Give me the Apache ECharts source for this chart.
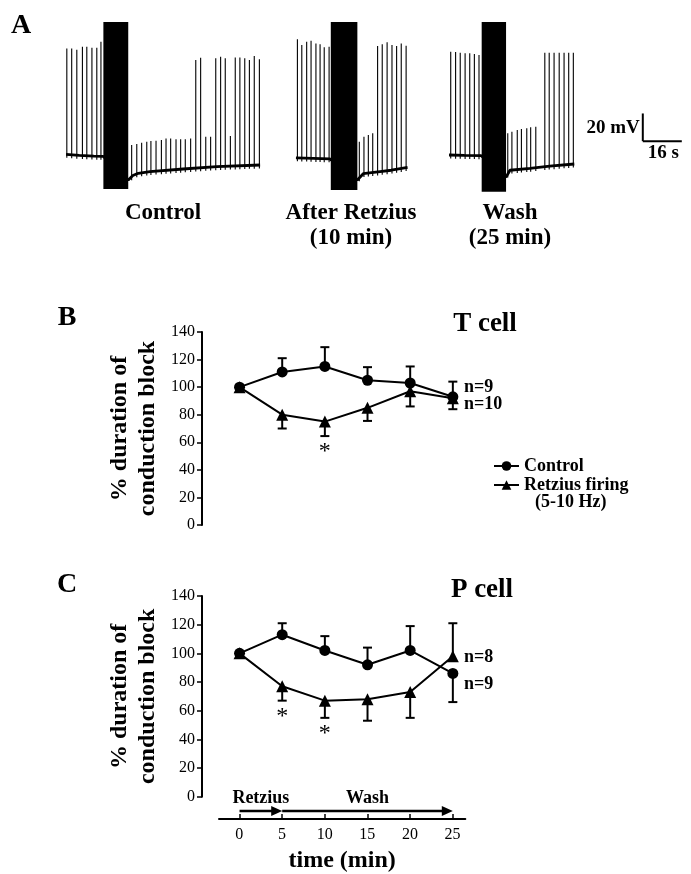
<!DOCTYPE html>
<html>
<head>
<meta charset="utf-8">
<script src="https://cdn.jsdelivr.net/npm/echarts@6/dist/echarts.min.js"></script>
<style>
html,body{margin:0;padding:0;background:#fff;}
#chart{width:691px;height:874px;}
</style>
</head>
<body>
<div id="chart"></div>
<script>
// ---------- Panel A: intracellular traces (time in s, membrane potential in mV) ----------
const ctrlBaseline = [[6.6,-49.5],[12,-50.3],[18,-50.8],[21.9,-51],[32.1,-68],[34,-64.8],[36.2,-63.2],[41,-62],[54.6,-60.1],[68.4,-58.4],[86.2,-57.2]];
const ctrlSpikes = [[6.9,27],[8.9,27],[11.0,26],[13.3,28.2],[15.1,28.2],[17.2,27.5],[19.2,27.5],[20.9,31.8],
  [33.5,-42.8],[35.6,-42],[37.6,-41.1],[39.7,-40.4],[41.4,-39.9],[43.5,-39.7],[45.7,-39.2],[47.6,-38],[49.5,-38],[51.7,-38.7],[53.6,-38.7],[55.5,-38.7],[57.7,-38],
  [59.8,18.6],[61.8,20.3],[63.9,-36.8],[65.9,-36.8],[68.0,19.8],[70.0,21],[71.9,19.8],[74.0,-36.3],[76.0,20.5],[77.9,20.5],[79.9,19.8],[81.8,18.6],[83.8,21.5],[85.9,19.1]];
const ctrlBlock = [21.9, 32.1, 46, -74.5];

const retzBaseline = [[100.9,-52],[108,-52.4],[114.8,-52.8],[126.1,-68],[128.5,-63.5],[135.4,-62],[140,-61],[146.7,-58.9]];
const retzSpikes = [[101.5,33.5],[103.3,29.4],[105.3,31.8],[107.1,32.5],[109.1,30.6],[110.8,29.9],[112.5,27.8],[114.5,28.2],
  [126.9,-40.4],[128.8,-36.8],[130.6,-35.6],[132.4,-34.3],[134.4,28.7],[136.3,29.9],[138.3,31.4],[140.3,29.4],[142.2,28.7],[144.1,30.6],[146.1,28.9]];
const retzBlock = [115.2, 126.1, 46, -75.3];

const washBaseline = [[163.7,-50],[170,-50.3],[176.9,-50.5],[187.1,-66],[188.7,-61],[196.9,-59.6],[205,-58],[215.1,-56.5]];
const washSpikes = [[164.4,24.6],[166.4,24.4],[168.3,23.9],[170.3,23.4],[172.2,23.4],[174.1,22.9],[176.0,22.2],
  [187.8,-34.3],[189.5,-33.2],[191.7,-31.9],[193.4,-31.2],[195.6,-30.7],[197.2,-30],[199.3,-29.6],
  [203,23.9],[204.8,23.9],[206.8,23.9],[208.9,23.9],[210.9,23.9],[212.8,23.9],[214.7,23.9]];
const washBlock = [177.1, 187.1, 46, -76.5];

const scaleBar = [243.2, -40, 16, 20]; // corner t, corner V, 16 s, 20 mV

// ---------- Panels B and C ----------
const timeMin = [0, 5, 10, 15, 20, 25];
const yTicks = [0, 20, 40, 60, 80, 100, 120, 140];

const tControl   = [100, 111, 115, 105, 103, 93];
const tControlUp = [0, 10, 14, 9.5, 12, 11];
const tControlDn = [0, 0, 0, 0, 0, 0];
const tRetz      = [100, 80, 75, 85, 97, 92];
const tRetzUp    = [0, 0, 0, 0, 0, 0];
const tRetzDn    = [0, 10, 10.5, 9.5, 11, 8];
const tSigIdx    = [2];

const pControl   = [100, 113, 102, 92, 102, 86];
const pControlUp = [0, 8, 10, 12, 17, 0];
const pControlDn = [0, 0, 0, 0, 0, 20];
const pRetz      = [100, 77, 67, 68, 73, 98];
const pRetzUp    = [0, 0, 0, 0, 0, 23];
const pRetzDn    = [0, 10, 12, 15, 18, 0];
const pSigIdx    = [1, 2];

const protocol = [['Retzius', 0, 5], ['Wash', 5, 25]];

// ---------- helpers ----------
const FF = '"Liberation Serif", "Times New Roman", serif';
function baselineAt(b, t) {
  if (t <= b[0][0]) return b[0][1];
  for (let i = 1; i < b.length; i++) {
    if (t <= b[i][0]) {
      const f = (t - b[i-1][0]) / (b[i][0] - b[i-1][0]);
      return b[i-1][1] + f * (b[i][1] - b[i-1][1]);
    }
  }
  return b[b.length-1][1];
}
function spikeSeries(spikes, baseline) {
  return {
    type: 'custom', xAxisIndex: 0, yAxisIndex: 0, silent: true, clip: false, z: 3,
    data: spikes, encode: { x: 0, y: 1 },
    renderItem: function (params, api) {
      const t = api.value(0), v = api.value(1);
      const p1 = api.coord([t, v]);
      const p2 = api.coord([t, baselineAt(baseline, t) - 2.5]);
      return { type: 'line', shape: { x1: p1[0], y1: p1[1], x2: p2[0], y2: p2[1] },
               style: { stroke: '#000', lineWidth: 1.1 } };
    }
  };
}
function baseSeries(baseline) {
  return { type: 'line', xAxisIndex: 0, yAxisIndex: 0, data: baseline, symbol: 'none', silent: true,
           lineStyle: { color: '#000', width: 2.8 }, z: 2, animation: false };
}
function blockSeries(block) {
  return {
    type: 'custom', xAxisIndex: 0, yAxisIndex: 0, silent: true, clip: false, z: 5,
    data: [block], encode: { x: [0, 1], y: [2, 3] },
    renderItem: function (params, api) {
      const a = api.coord([api.value(0), api.value(2)]);
      const b = api.coord([api.value(1), api.value(3)]);
      return { type: 'rect', shape: { x: a[0], y: a[1], width: b[0] - a[0], height: b[1] - a[1] },
               style: { fill: '#000' } };
    }
  };
}
function rows(vals, up, dn) { return timeMin.map((t, i) => [t, vals[i], up[i], dn[i]]); }
function errSeries(idx, vals, up, dn) {
  return {
    type: 'custom', xAxisIndex: idx, yAxisIndex: idx, silent: true, clip: false, z: 2,
    data: rows(vals, up, dn), encode: { x: 0, y: 1 },
    renderItem: function (params, api) {
      const t = api.value(0), v = api.value(1), u = api.value(2), d = api.value(3);
      const top = api.coord([t, v + u]), bot = api.coord([t, v - d]);
      const ch = [];
      const st = { stroke: '#000', lineWidth: 2 };
      if (u > 0 || d > 0) {
        ch.push({ type: 'line', shape: { x1: top[0], y1: top[1], x2: bot[0], y2: bot[1] }, style: st });
      }
      if (u > 0) ch.push({ type: 'line', shape: { x1: top[0] - 4.5, y1: top[1], x2: top[0] + 4.5, y2: top[1] }, style: st });
      if (d > 0) ch.push({ type: 'line', shape: { x1: bot[0] - 4.5, y1: bot[1], x2: bot[0] + 4.5, y2: bot[1] }, style: st });
      return { type: 'group', children: ch };
    }
  };
}
function sigSeries(idx, sigIdx, vals, dn) {
  return {
    type: 'custom', xAxisIndex: idx, yAxisIndex: idx, silent: true, clip: false, z: 4,
    data: sigIdx.map(i => [timeMin[i], vals[i] - dn[i]]), encode: { x: 0, y: 1 },
    renderItem: function (params, api) {
      const p = api.coord([api.value(0), api.value(1)]);
      return { type: 'text', x: p[0], y: p[1] + 4,
               style: { text: '*', fill: '#000', font: '24px ' + FF, align: 'center', verticalAlign: 'top' } };
    }
  };
}
function lineSeries(idx, name, vals, sym, size) {
  return {
    type: 'line', name: name, xAxisIndex: idx, yAxisIndex: idx, z: 3,
    data: timeMin.map((t, i) => [t, vals[i]]),
    symbol: sym, symbolSize: size, clip: false,
    itemStyle: { color: '#000' }, lineStyle: { color: '#000', width: 2 }, animation: false
  };
}
function yAx(idx) {
  return {
    type: 'value', gridIndex: idx, min: 0, max: 140, interval: 20,
    name: '% duration of\nconduction block', nameLocation: 'middle', nameRotate: 90, nameGap: 40,
    nameTextStyle: { fontFamily: FF, fontWeight: 'bold', fontSize: 24, lineHeight: 28, color: '#000' },
    axisLine: { show: true, onZero: false, lineStyle: { color: '#000', width: 2 } },
    axisTick: { show: true, length: 5, lineStyle: { color: '#000', width: 1.5 } },
    axisLabel: { fontFamily: FF, fontSize: 16, color: '#000', margin: 7 },
    splitLine: { show: false }
  };
}
const PX_PER_MIN = 8.532;

const chart = echarts.init(document.getElementById('chart'), null, { renderer: 'canvas' });
const option = {
  animation: false,
  backgroundColor: '#fff',
  grid: [
    { left: 50, top: 9.6, width: 633.75, height: 200.8 },
    { left: 202, top: 332, width: 30.4 * PX_PER_MIN, height: 193 },
    { left: 202, top: 596, width: 30.4 * PX_PER_MIN, height: 200.7 },
    { left: 219, top: 700, width: (26.49 + 2.38) * PX_PER_MIN, height: 122 }
  ],
  xAxis: [
    { type: 'value', gridIndex: 0, min: 0, max: 260, show: false },
    { type: 'value', gridIndex: 1, min: -4.4, max: 26, show: false },
    { type: 'value', gridIndex: 2, min: -4.4, max: 26, show: false },
    { type: 'value', gridIndex: 3, min: -2.38, max: 26.49,
      name: 'time (min)', nameLocation: 'middle', nameGap: 30,
      nameTextStyle: { fontFamily: FF, fontWeight: 'bold', fontSize: 24, color: '#000' },
      axisLine: { show: true, onZero: false, lineStyle: { color: '#000', width: 2 } },
      axisTick: { show: true, inside: true, length: 5, customValues: timeMin, lineStyle: { color: '#000', width: 1.5 } },
      axisLabel: { fontFamily: FF, fontSize: 16, color: '#000', margin: 8, customValues: timeMin },
      splitLine: { show: false } }
  ],
  yAxis: [
    { type: 'value', gridIndex: 0, min: -90, max: 55, show: false },
    yAx(1),
    yAx(2),
    { type: 'value', gridIndex: 3, min: 0, max: 1, show: false }
  ],
  legend: {
    orient: 'vertical', left: 488, top: 452, itemWidth: 25, itemHeight: 12, itemGap: 1,
    data: ['Control', 'Retzius firing'],
    textStyle: { fontFamily: FF, fontWeight: 'bold', fontSize: 18, color: '#000' },
    selectedMode: false
  },
  series: [
    baseSeries(ctrlBaseline), spikeSeries(ctrlSpikes, ctrlBaseline), blockSeries(ctrlBlock),
    baseSeries(retzBaseline), spikeSeries(retzSpikes, retzBaseline), blockSeries(retzBlock),
    baseSeries(washBaseline), spikeSeries(washSpikes, washBaseline), blockSeries(washBlock),
    { type: 'custom', xAxisIndex: 0, yAxisIndex: 0, silent: true, clip: false, z: 5,
      data: [scaleBar], encode: { x: 0, y: 1 },
      renderItem: function (params, api) {
        const t = api.value(0), v = api.value(1), dt = api.value(2), dv = api.value(3);
        const c = api.coord([t, v]), top = api.coord([t, v + dv]), r = api.coord([t + dt, v]);
        const st = { stroke: '#000', lineWidth: 2 };
        return { type: 'group', children: [
          { type: 'line', shape: { x1: top[0], y1: top[1], x2: c[0], y2: c[1] }, style: st },
          { type: 'line', shape: { x1: c[0], y1: c[1], x2: r[0], y2: r[1] }, style: st },
          { type: 'text', x: c[0] - 3, y: (top[1] + c[1]) / 2 + 1,
            style: { text: dv + ' mV', fill: '#000', font: 'bold 19px ' + FF, align: 'right', verticalAlign: 'middle' } },
          { type: 'text', x: (c[0] + r[0]) / 2 + 1, y: c[1] + 12,
            style: { text: dt + ' s', fill: '#000', font: 'bold 19px ' + FF, align: 'center', verticalAlign: 'middle' } }
        ] };
      } },

    errSeries(1, tControl, tControlUp, tControlDn),
    errSeries(1, tRetz, tRetzUp, tRetzDn),
    lineSeries(1, 'Control', tControl, 'circle', 11),
    lineSeries(1, 'Retzius firing', tRetz, 'triangle', 12),
    sigSeries(1, tSigIdx, tRetz, tRetzDn),

    errSeries(2, pControl, pControlUp, pControlDn),
    errSeries(2, pRetz, pRetzUp, pRetzDn),
    lineSeries(2, 'Control', pControl, 'circle', 11),
    lineSeries(2, 'Retzius firing', pRetz, 'triangle', 12),
    sigSeries(2, pSigIdx, pRetz, pRetzDn),

    { type: 'custom', xAxisIndex: 2, yAxisIndex: 2, silent: true, clip: false, z: 3,
      data: protocol.map(p => [p[1], p[2], -10]), encode: { x: [0, 1], y: 2 },
      renderItem: function (params, api) {
        const a = api.coord([api.value(0), api.value(2)]);
        const b = api.coord([api.value(1), api.value(2)]);
        const name = protocol[params.dataIndex][0];
        return { type: 'group', children: [
          { type: 'line', shape: { x1: a[0], y1: a[1], x2: b[0] - 8, y2: b[1] }, style: { stroke: '#000', lineWidth: 2.5 } },
          { type: 'polygon', shape: { points: [[b[0], b[1]], [b[0] - 11, b[1] - 5], [b[0] - 11, b[1] + 5]] }, style: { fill: '#000' } },
          { type: 'text', x: (a[0] + b[0]) / 2, y: a[1] - 13,
            style: { text: name, fill: '#000', font: 'bold 18px ' + FF, align: 'center', verticalAlign: 'middle' } }
        ] };
      } }
  ],
  graphic: [
    { type: 'text', x: 21, y: 26, style: { text: 'A', fill: '#000', font: 'bold 28px ' + FF, align: 'center', verticalAlign: 'middle' } },
    { type: 'text', x: 67, y: 318, style: { text: 'B', fill: '#000', font: 'bold 28px ' + FF, align: 'center', verticalAlign: 'middle' } },
    { type: 'text', x: 67, y: 585, style: { text: 'C', fill: '#000', font: 'bold 28px ' + FF, align: 'center', verticalAlign: 'middle' } },
    { type: 'text', x: 163, y: 213, style: { text: 'Control', fill: '#000', font: 'bold 23px ' + FF, align: 'center', verticalAlign: 'middle' } },
    { type: 'text', x: 351, y: 213, style: { text: 'After Retzius', fill: '#000', font: 'bold 23px ' + FF, align: 'center', verticalAlign: 'middle' } },
    { type: 'text', x: 351, y: 238, style: { text: '(10 min)', fill: '#000', font: 'bold 23px ' + FF, align: 'center', verticalAlign: 'middle' } },
    { type: 'text', x: 510, y: 213, style: { text: 'Wash', fill: '#000', font: 'bold 23px ' + FF, align: 'center', verticalAlign: 'middle' } },
    { type: 'text', x: 510, y: 238, style: { text: '(25 min)', fill: '#000', font: 'bold 23px ' + FF, align: 'center', verticalAlign: 'middle' } },
    { type: 'text', x: 485, y: 324, style: { text: 'T cell', fill: '#000', font: 'bold 27px ' + FF, align: 'center', verticalAlign: 'middle' } },
    { type: 'text', x: 482, y: 590, style: { text: 'P cell', fill: '#000', font: 'bold 27px ' + FF, align: 'center', verticalAlign: 'middle' } },
    { type: 'text', x: 464, y: 387, style: { text: 'n=9', fill: '#000', font: 'bold 18px ' + FF, align: 'left', verticalAlign: 'middle' } },
    { type: 'text', x: 464, y: 404, style: { text: 'n=10', fill: '#000', font: 'bold 18px ' + FF, align: 'left', verticalAlign: 'middle' } },
    { type: 'text', x: 464, y: 657, style: { text: 'n=8', fill: '#000', font: 'bold 18px ' + FF, align: 'left', verticalAlign: 'middle' } },
    { type: 'text', x: 464, y: 684, style: { text: 'n=9', fill: '#000', font: 'bold 18px ' + FF, align: 'left', verticalAlign: 'middle' } },
    { type: 'text', x: 535, y: 502, style: { text: '(5-10 Hz)', fill: '#000', font: 'bold 18px ' + FF, align: 'left', verticalAlign: 'middle' } }
  ]
};
chart.setOption(option);
</script>
</body>
</html>
